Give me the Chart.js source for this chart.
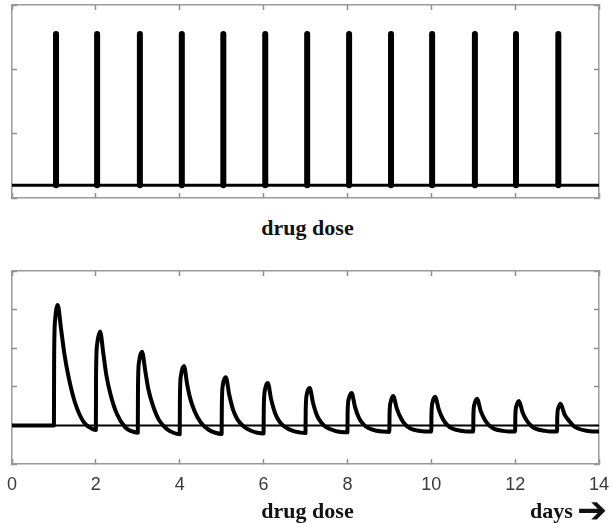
<!DOCTYPE html>
<html>
<head>
<meta charset="utf-8">
<script src="https://cdn.jsdelivr.net/npm/chart.js@4.4.1/dist/chart.umd.min.js"></script>
<style>
  html, body { margin: 0; padding: 0; background: #fff; }
  #wrap { position: relative; width: 613px; height: 524px; overflow: hidden; }
  canvas { position: absolute; left: 0; }
  #doseChart { top: 0; }
  #respChart { top: 250px; }
  .lbl {
    position: absolute; font-family: "Liberation Serif", "Times New Roman", serif;
    font-weight: bold; font-size: 22px; line-height: 22px; color: #111; white-space: nowrap;
  }
  .arrow {
    position: absolute; font-family: "DejaVu Sans", sans-serif; font-size: 36px;
    line-height: 36px; color: #111; left: 577px; top: 492px;
  }
</style>
</head>
<body>
<div id="wrap">
  <canvas id="doseChart" width="613" height="210"></canvas>
  <canvas id="respChart" width="613" height="274"></canvas>
  <div class="lbl" style="left:0; width:615px; text-align:center; top:217px;">drug dose</div>
  <div class="lbl" style="left:0; width:615px; text-align:center; top:500px;">drug dose</div>
  <div class="lbl" style="left:530px; top:500px;">days</div>
  <div class="arrow">&#10132;</div>
</div>
<script>
// dosing schedule (top panel)
const doseTimes = [1.05, 2.03, 3.05, 4.05, 5.04, 6.04, 7.04, 8.04, 9.04, 10.02, 11.04, 12.02, 13.03];
const doseLevel = 2.35;
const doseTicks = [-0.2, 0.8, 1.8, 2.8];

// response after each dose (bottom panel), one row per dose
const responseDays = [0,
  1.00, 1.005, 1.03, 1.09, 1.17, 1.25, 1.35, 1.50, 1.70, 1.85,
  2.00, 2.005, 2.03, 2.10, 2.18, 2.25, 2.35, 2.50, 2.70, 2.85,
  3.00, 3.005, 3.03, 3.10, 3.18, 3.25, 3.35, 3.50, 3.70, 3.85,
  4.00, 4.005, 4.03, 4.10, 4.18, 4.25, 4.35, 4.50, 4.70, 4.85,
  5.00, 5.005, 5.03, 5.10, 5.18, 5.28, 5.38, 5.50, 5.70, 5.85,
  6.00, 6.005, 6.03, 6.10, 6.18, 6.28, 6.38, 6.50, 6.70, 6.85,
  7.00, 7.005, 7.03, 7.10, 7.18, 7.28, 7.38, 7.50, 7.70, 7.85,
  8.00, 8.005, 8.03, 8.10, 8.18, 8.28, 8.38, 8.50, 8.70, 8.85,
  9.00, 9.005, 9.03, 9.09, 9.18, 9.28, 9.38, 9.50, 9.70, 9.85,
  10.00, 10.005, 10.03, 10.09, 10.18, 10.28, 10.38, 10.50, 10.70, 10.85,
  11.00, 11.005, 11.03, 11.09, 11.18, 11.28, 11.38, 11.50, 11.70, 11.85,
  12.00, 12.005, 12.03, 12.09, 12.18, 12.28, 12.38, 12.50, 12.70, 12.85,
  13.00, 13.005, 13.03, 13.08, 13.18, 13.30, 13.40, 13.50, 13.70, 13.85,
  14.0];
const responseLevels = [0,
  0, 1.8, 2.75, 3.12, 2.5, 1.85, 1.25, 0.6, 0.1, -0.05,
  -0.12, 1.35, 2.1, 2.43, 1.85, 1.3, 0.8, 0.3, -0.05, -0.15,
  -0.19, 1.0, 1.65, 1.91, 1.4, 0.95, 0.55, 0.15, -0.1, -0.19,
  -0.23, 0.75, 1.3, 1.54, 1.05, 0.7, 0.38, 0.08, -0.12, -0.19,
  -0.22, 0.55, 1.05, 1.25, 0.8, 0.38, 0.15, 0.0, -0.14, -0.19,
  -0.21, 0.45, 0.9, 1.10, 0.68, 0.3, 0.1, -0.03, -0.14, -0.18,
  -0.2, 0.4, 0.8, 0.97, 0.58, 0.24, 0.07, -0.05, -0.14, -0.17,
  -0.18, 0.35, 0.68, 0.84, 0.48, 0.18, 0.03, -0.07, -0.14, -0.16,
  -0.17, 0.3, 0.6, 0.76, 0.43, 0.18, 0.02, -0.08, -0.14, -0.16,
  -0.16, 0.3, 0.6, 0.74, 0.41, 0.16, 0.01, -0.08, -0.14, -0.16,
  -0.16, 0.28, 0.55, 0.69, 0.37, 0.14, 0.0, -0.09, -0.14, -0.16,
  -0.16, 0.25, 0.5, 0.63, 0.33, 0.12, -0.01, -0.09, -0.14, -0.16,
  -0.16, 0.22, 0.45, 0.56, 0.28, 0.1, -0.02, -0.08, -0.14, -0.16,
  -0.16];

const dayTicks = { min: 0, max: 14, stepSize: 2 };

// box axis with small inward ticks, no grid inside
function boxAxis(position, extra, height) {
  const horiz = position === 'top' || position === 'bottom';
  return Object.assign({
    type: 'linear',
    position: position,
    grid: { drawOnChartArea: false, drawTicks: true, tickLength: -5, tickColor: '#8c8c8c', tickWidth: 1.5 },
    border: { display: true, color: '#9a9a9a', width: 1.5 },
    ticks: { display: false },
    afterFit: s => {
      if (horiz) { s.height = height || 0; s.paddingLeft = 0; s.paddingRight = 0; }
      else { s.width = 0; s.paddingTop = 0; s.paddingBottom = 0; }
    }
  }, extra);
}

const commonOpts = {
  responsive: false,
  animation: false,
  events: [],
  plugins: { legend: { display: false }, tooltip: { enabled: false } }
};

// top: dose spikes
const dosePts = [];
doseTimes.forEach(t => {
  dosePts.push({ x: t, y: 0 }, { x: t, y: doseLevel }, { x: t, y: 0 }, { x: t, y: null });
});

new Chart(document.getElementById('doseChart'), {
  type: 'line',
  data: {
    datasets: [{
      data: [{ x: 0, y: 0 }, { x: 14, y: 0 }],
      borderColor: '#000', borderWidth: 3, pointRadius: 0
    }, {
      data: dosePts,
      borderColor: '#000', borderWidth: 6, pointRadius: 0,
      borderJoinStyle: 'round', borderCapStyle: 'round', spanGaps: false
    }]
  },
  options: Object.assign({}, commonOpts, {
    layout: { autoPadding: false, padding: { left: 12, right: 14, top: 5, bottom: 12 } },
    scales: {
      x: boxAxis('bottom', { min: 0, max: 14, ticks: { display: false, stepSize: 2 } }),
      x2: boxAxis('top', { min: 0, max: 14, ticks: { display: false, stepSize: 2 } }),
      y: boxAxis('left', { min: -0.2, max: 2.8, afterBuildTicks: s => { s.ticks = doseTicks.map(v => ({ value: v })); } }),
      y2: boxAxis('right', { min: -0.2, max: 2.8, afterBuildTicks: s => { s.ticks = doseTicks.map(v => ({ value: v })); } })
    }
  })
});

// bottom: response curve
const respPts = responseDays.map((d, i) => ({ x: d, y: responseLevels[i] }));

new Chart(document.getElementById('respChart'), {
  type: 'line',
  data: {
    datasets: [{
      data: [{ x: 0, y: 0 }, { x: 14, y: 0 }],
      borderColor: '#000', borderWidth: 2, pointRadius: 0
    }, {
      data: respPts,
      borderColor: '#000', borderWidth: 4, pointRadius: 0,
      cubicInterpolationMode: 'monotone', borderJoinStyle: 'round'
    }]
  },
  options: Object.assign({}, commonOpts, {
    layout: { autoPadding: false, padding: { left: 12, right: 14, top: 21, bottom: 30 } },
    scales: {
      x: boxAxis('bottom', {
        min: dayTicks.min, max: dayTicks.max,
        ticks: { display: true, stepSize: dayTicks.stepSize, padding: 15, maxRotation: 0,
                 color: '#3a3a3a', font: { family: "'Liberation Sans', Arial, sans-serif", size: 18 } }
      }, 30),
      x2: boxAxis('top', { min: 0, max: 14, ticks: { display: false, stepSize: 2 } }),
      y: boxAxis('left', { min: -1, max: 4, ticks: { display: false, stepSize: 1 } }),
      y2: boxAxis('right', { min: -1, max: 4, ticks: { display: false, stepSize: 1 } })
    }
  })
});
</script>
</body>
</html>
